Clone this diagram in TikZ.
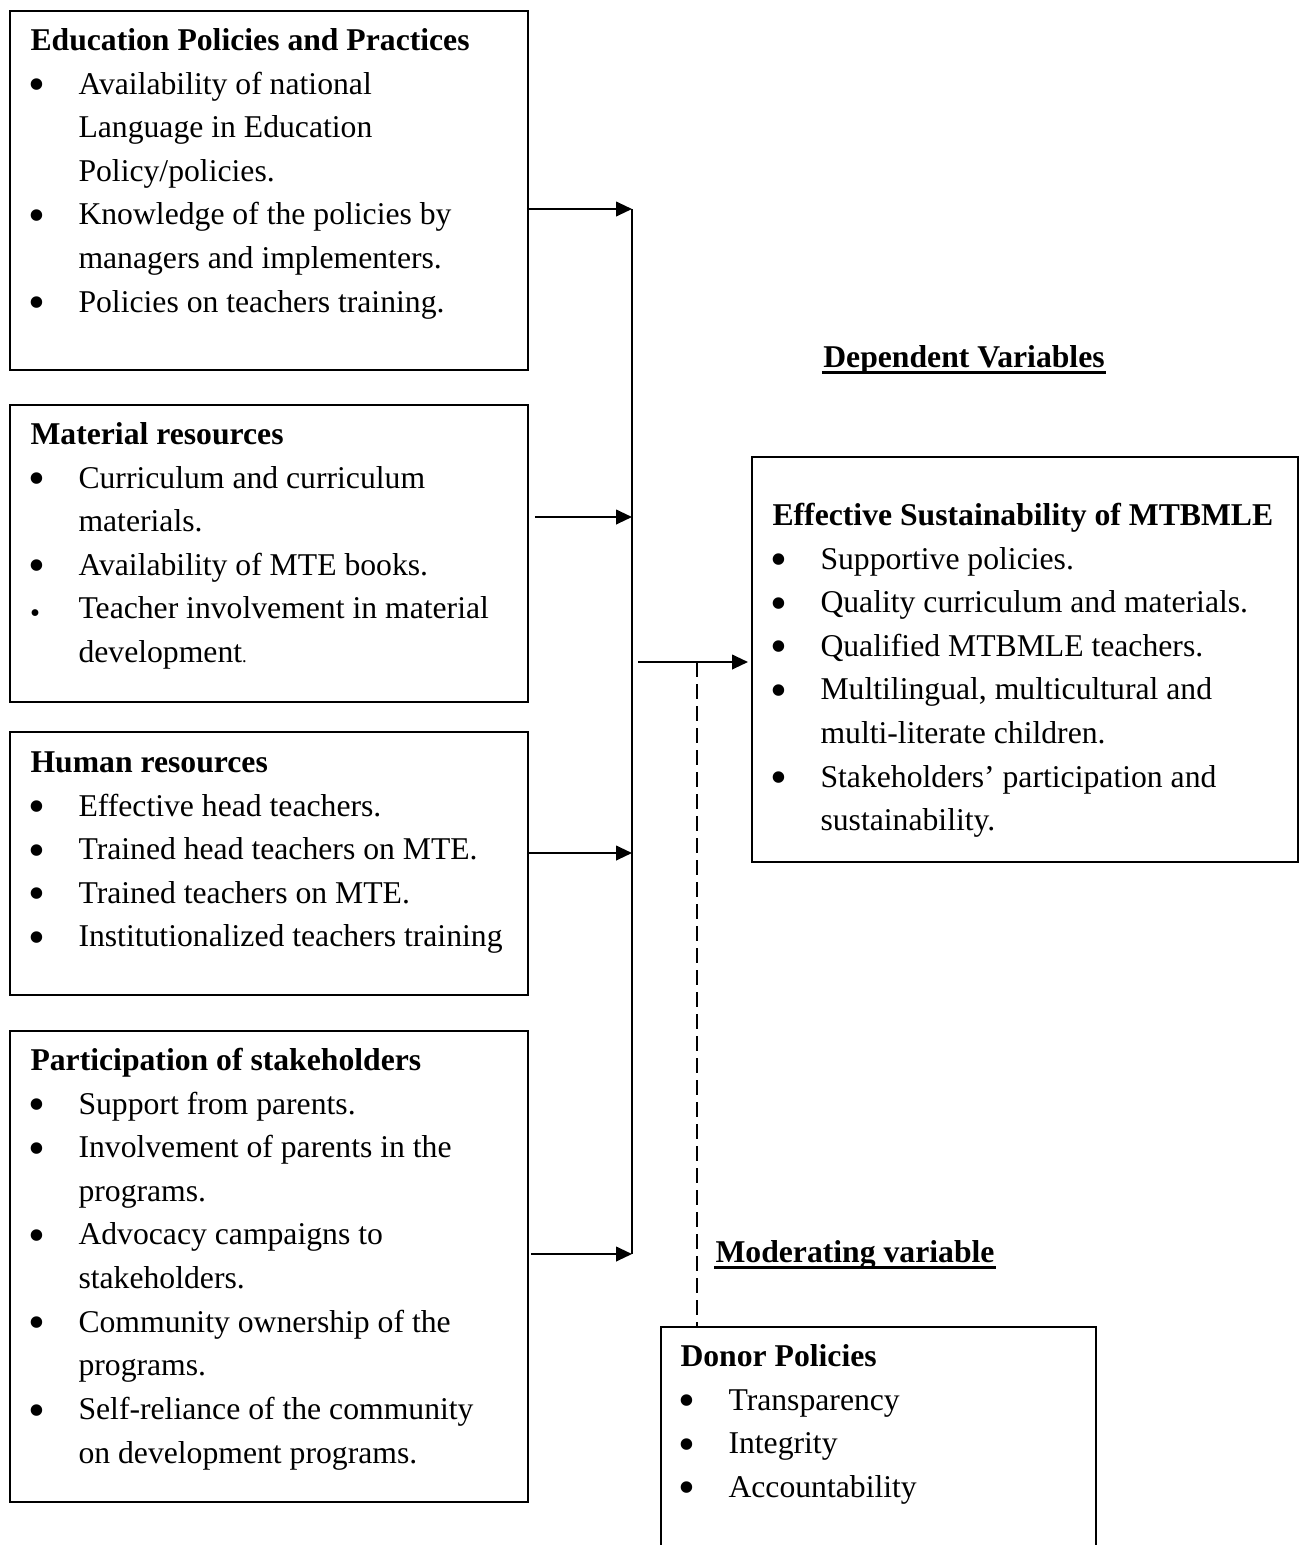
\documentclass[tikz,border=0pt]{standalone}
\usepackage{fontspec}
\usepackage{graphicx}
\setmainfont{Liberation Serif}
\usetikzlibrary{arrows.meta}
\newlength{\pxu}
\setlength{\pxu}{0.3788pt}
% bullet and hanging indent for the list lines
\newcommand{\bul}{\makebox[48\pxu][l]{\hspace*{-2\pxu}\raisebox{-2.5pt}{\scalebox{1.52}{\textbullet}}}}
\newcommand{\sbul}{\makebox[48\pxu][l]{\hspace*{-0.5\pxu}\raisebox{-1.5pt}{\scalebox{0.9}{\textbullet}}}}
\newcommand{\ind}{\makebox[48\pxu]{}}
\newcommand{\fst}{\rule{0pt}{30\pxu}}
\tikzset{
        % framed variable boxes
        var_box/.style={draw, line width=0.75pt, inner sep=0pt, anchor=north west},
        % list text inside the boxes
        var_text/.style={anchor=north west, inner sep=0pt, align=left, font=\fontsize{12}{16.52}\selectfont},
        % underlined group headings
        heading/.style={anchor=base, inner sep=0pt, font=\fontsize{12}{16.52}\selectfont\bfseries},
        head_rule/.style={line width=3\pxu, shorten <=-1\pxu, shorten >=-1\pxu},
        % arrows into and out of the bus line
        var_arrow/.style={line width=0.75pt, -{Triangle[length=6pt, width=5.5pt]}}
}
\begin{document}
\begin{tikzpicture}[x=\pxu, y=-\pxu]
    \useasboundingbox (0,0) rectangle (1299,1545);
    \clip (0,0) rectangle (1299,1545);

    % independent variables
    \node[var_box, minimum width=518\pxu, minimum height=359\pxu] (edu) at (9,10) {};
    \node[var_text] (edu_txt) at (30,20) {\fst\textbf{Education Policies and Practices}\\
        \bul Availability of national\\
        \ind Language in Education\\
        \ind Policy/policies.\\
        \bul Knowledge of the policies by\\
        \ind managers and implementers.\\
        \bul Policies on teachers training.};

    \node[var_box, minimum width=518\pxu, minimum height=297\pxu] (mat) at (9,404) {};
    \node[var_text] (mat_txt) at (30,414) {\fst\textbf{Material resources}\\
        \bul Curriculum and curriculum\\
        \ind materials.\\
        \bul Availability of MTE books.\\
        \sbul Teacher involvement in material\\
        \ind development{\scriptsize.}};

    \node[var_box, minimum width=518\pxu, minimum height=263\pxu] (hum) at (9,731) {};
    \node[var_text] (hum_txt) at (30,742) {\fst\textbf{Human resources}\\
        \bul Effective head teachers.\\
        \bul Trained head teachers on MTE.\\
        \bul Trained teachers on MTE.\\
        \bul Institutionalized teachers training};

    \node[var_box, minimum width=518\pxu, minimum height=471\pxu] (part) at (9,1030) {};
    \node[var_text] (part_txt) at (30,1040) {\fst\textbf{Participation of stakeholders}\\
        \bul Support from parents.\\
        \bul Involvement of parents in the\\
        \ind programs.\\
        \bul Advocacy campaigns to\\
        \ind stakeholders.\\
        \bul Community ownership of the\\
        \ind programs.\\
        \bul Self-reliance of the community\\
        \ind on development programs.};

    % dependent variable
    \node[heading] (dep_head) at (964,367) {Dependent Variables};
    \draw[head_rule] ([yshift=-5.5\pxu]dep_head.base west) -- ([yshift=-5.5\pxu]dep_head.base east);
    \node[var_box, minimum width=546\pxu, minimum height=405\pxu] (eff) at (751,456) {};
    \node[var_text] (eff_txt) at (772,495) {\fst\textbf{Effective Sustainability of MTBMLE}\\
        \bul Supportive policies.\\
        \bul Quality curriculum and materials.\\
        \bul Qualified MTBMLE teachers.\\
        \bul Multilingual, multicultural and\\
        \ind multi-literate children.\\
        \bul Stakeholders’ participation and\\
        \ind sustainability.};

    % moderating variable
    \node[heading] (mod_head) at (855,1262) {Moderating variable};
    \draw[head_rule] ([yshift=-5.5\pxu]mod_head.base west) -- ([yshift=-5.5\pxu]mod_head.base east);
    \node[var_box, minimum width=435\pxu, minimum height=260\pxu] (donor) at (660,1326) {};
    \node[var_text] (donor_txt) at (680,1336) {\fst\textbf{Donor Policies}\\
        \bul Transparency\\
        \bul Integrity\\
        \bul Accountability};

    % bus line
    \coordinate (j1) at (632,209);
    \coordinate (j2) at (632,517);
    \coordinate (j3) at (632,853);
    \coordinate (j4) at (632,1254);
    \coordinate (out) at (638,662);
    \coordinate (mod) at (697,662);
    \draw[line width=0.75pt] (j1) -- (j4);
    \draw[var_arrow] ([xshift=-2\pxu]edu.east |- j1) -- (j1);
    \draw[var_arrow] ([xshift=6\pxu]mat.east |- j2) -- (j2);
    \draw[var_arrow] (hum.east |- j3) -- (j3);
    \draw[var_arrow] ([xshift=2\pxu]part.east |- j4) -- (j4);
    \draw[var_arrow] (out) -- ([xshift=-3\pxu]eff.west |- out);
    \draw[line width=0.75pt, dash pattern=on 15\pxu off 7\pxu] (mod) -- (mod |- donor.north);
\end{tikzpicture}
\end{document}
